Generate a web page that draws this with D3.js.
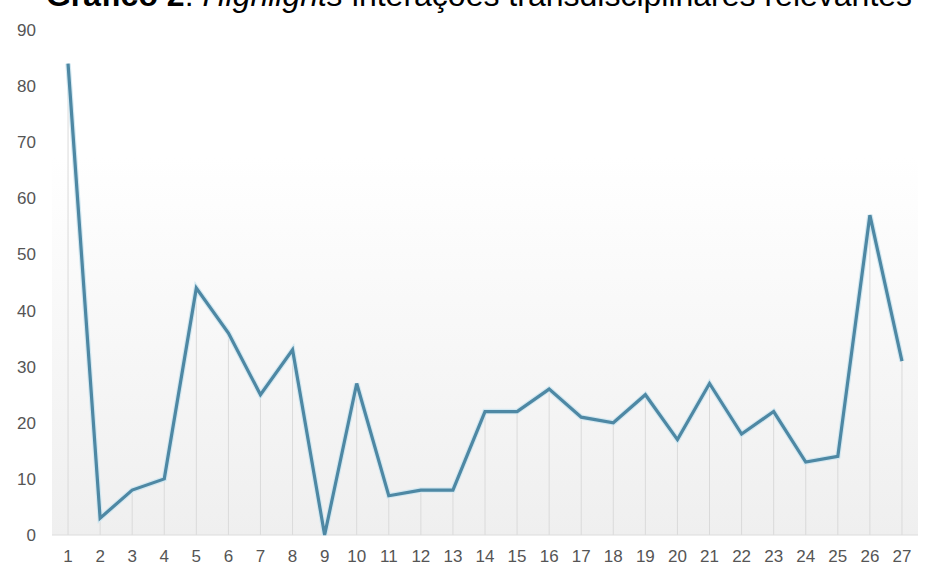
<!DOCTYPE html>
<html>
<head>
<meta charset="utf-8">
<script src="https://cdn.jsdelivr.net/npm/d3@7"></script>
<style>
  html, body { margin: 0; padding: 0; background: #fff; }
  svg { display: block; }
</style>
</head>
<body>
<script>
// Number of relevant transdisciplinary interactions per item
const categories = ["1","2","3","4","5","6","7","8","9","10","11","12","13","14","15","16","17","18","19","20","21","22","23","24","25","26","27"];
const values = [84, 3, 8, 10, 44, 36, 25, 33, 0, 27, 7, 8, 8, 22, 22, 26, 21, 20, 25, 17, 27, 18, 22, 13, 14, 57, 31];
const yTicks = [0, 10, 20, 30, 40, 50, 60, 70, 80, 90];

const W = 928, H = 577;
const margin = { top: 30, right: 10, bottom: 42, left: 52 };

const svg = d3.select("body").append("svg")
  .attr("width", W).attr("height", H);

const x = d3.scaleBand().domain(categories)
  .range([margin.left, W - margin.right]);
const y = d3.scaleLinear().domain([0, 90])
  .range([H - margin.bottom, margin.top]);

// Plot background: soft vertical gradient
const defs = svg.append("defs");
const grad = defs.append("linearGradient")
  .attr("id", "bg").attr("x1", 0).attr("y1", 0).attr("x2", 0).attr("y2", 1);
grad.append("stop").attr("offset", "0%").attr("stop-color", "#ffffff");
grad.append("stop").attr("offset", "25%").attr("stop-color", "#ffffff");
grad.append("stop").attr("offset", "100%").attr("stop-color", "#efefef");

svg.append("rect")
  .attr("x", margin.left).attr("y", margin.top)
  .attr("width", W - margin.right - margin.left)
  .attr("height", y(0) - margin.top)
  .attr("fill", "url(#bg)");

// Title (its upper part runs past the top edge)
const title = svg.append("text")
  .attr("x", W / 2 + 15).attr("y", 6)
  .attr("text-anchor", "middle")
  .style("font-family", "Liberation Sans, Arial, sans-serif")
  .style("font-size", "32px")
  .style("fill", "#000");
title.append("tspan").style("font-weight", "bold").text("Gráfico 2");
title.append("tspan").text(": ");
title.append("tspan").style("font-style", "italic").text("Highlights");
title.append("tspan").text(" interações transdisciplinares relevantes");

const cx = d => x(d) + x.bandwidth() / 2;

// Drop lines from each point to the baseline
svg.append("g").selectAll("line")
  .data(categories)
  .join("line")
  .attr("x1", d => cx(d)).attr("x2", d => cx(d))
  .attr("y1", (d, i) => y(values[i])).attr("y2", y(0))
  .attr("stroke", "#dadada").attr("stroke-width", 1);

// Baseline
svg.append("line")
  .attr("x1", margin.left).attr("x2", W - margin.right)
  .attr("y1", y(0)).attr("y2", y(0))
  .attr("stroke", "#dcdcdc").attr("stroke-width", 1);

// Y axis labels
const yAxis = svg.append("g")
  .attr("transform", `translate(${margin.left - 16},0)`)
  .call(d3.axisLeft(y).tickValues(yTicks).tickSize(0).tickPadding(0));
yAxis.select(".domain").remove();
yAxis.selectAll("text")
  .style("font-family", "Liberation Sans, Arial, sans-serif")
  .style("font-size", "17px")
  .style("fill", "#555");

// X axis labels
const xAxis = svg.append("g")
  .attr("transform", `translate(0,${y(0)})`)
  .call(d3.axisBottom(x).tickSize(0).tickPadding(15));
xAxis.select(".domain").remove();
xAxis.selectAll("text")
  .style("font-family", "Liberation Sans, Arial, sans-serif")
  .style("font-size", "17px")
  .style("fill", "#555");

// Series line with a pale halo
const line = d3.line()
  .x((d, i) => cx(categories[i]))
  .y(d => y(d));

svg.append("path")
  .datum(values)
  .attr("d", line)
  .attr("fill", "none")
  .attr("stroke", "#d3e8f1")
  .attr("stroke-width", 5.5)
  .attr("stroke-linejoin", "miter");

svg.append("path")
  .datum(values)
  .attr("d", line)
  .attr("fill", "none")
  .attr("stroke", "#4e88a4")
  .attr("stroke-width", 3.2)
  .attr("stroke-linejoin", "miter");
</script>
</body>
</html>
